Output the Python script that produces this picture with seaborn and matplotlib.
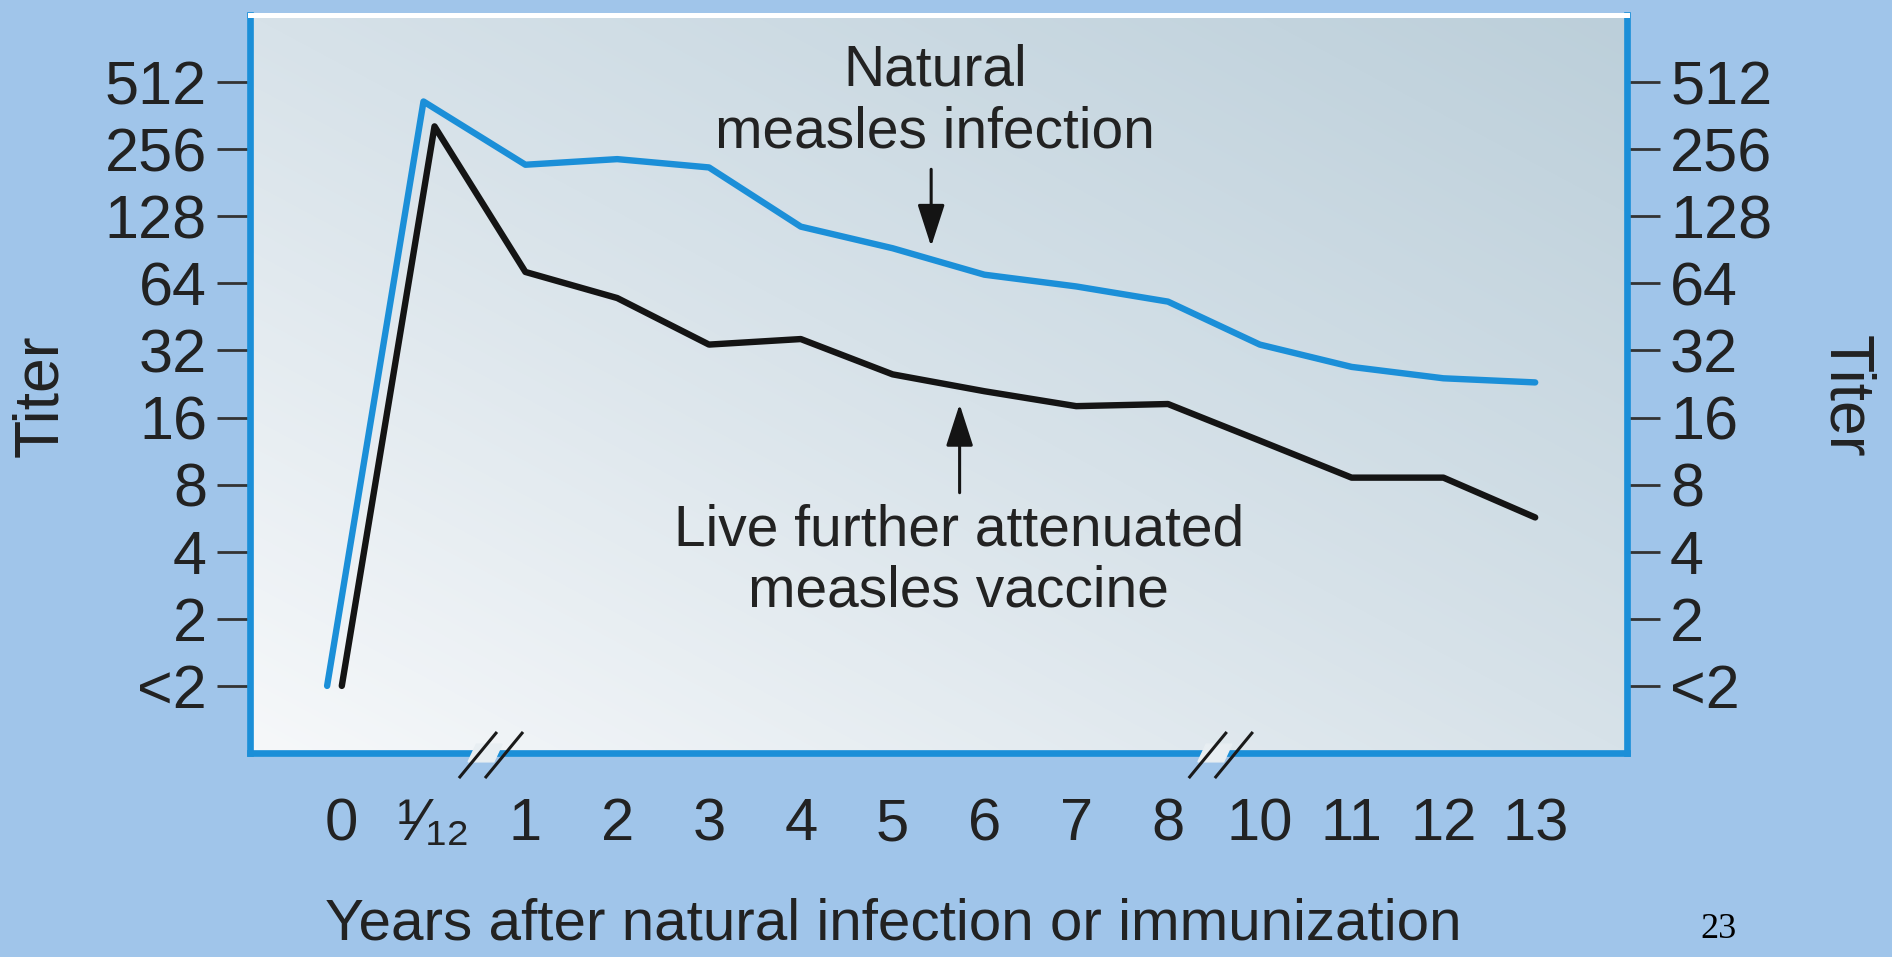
import numpy as np
import pandas as pd
import matplotlib
matplotlib.use('Agg')
import matplotlib.pyplot as plt
import matplotlib.transforms as mtransforms
from matplotlib.colors import LinearSegmentedColormap
from matplotlib.ticker import NullLocator
import seaborn as sns

# x axis is a row of slots, broken after 1/12 and after 8
tick_labels = ['0', '¹⁄₁₂', '1', '2', '3', '4', '5', '6', '7', '8', '10', '11', '12', '13']
tick_slots = list(range(len(tick_labels)))

# titer axis (log2), "<2" sits at 1
titer_ticks = [1, 2, 4, 8, 16, 32, 64, 128, 256, 512]
titer_labels = ['<2', '2', '4', '8', '16', '32', '64', '128', '256', '512']

# values
natural_x = [-0.16, 0.89, 2, 3, 4, 5, 6, 7, 8, 9, 10, 11, 12, 13]
natural_titer = [1, 419, 218, 231, 212, 115, 92, 70, 62, 53, 34, 27, 24, 23]

vaccine_x = [0, 1.01, 2, 3, 4, 5, 6, 7, 8, 9, 10, 11, 12, 13]
vaccine_titer = [1, 324, 72, 55, 34, 36, 25, 21, 18, 18.4, 12.6, 8.6, 8.6, 5.7]

BLUE = '#1b8fd8'
BLACK = '#141414'
BG = '#a0c5ea'
TXT = '#222222'

sns.set_style('white')
plt.rcParams['font.family'] = ['Liberation Sans', 'DejaVu Sans']

df = pd.concat([
    pd.DataFrame({'slot': natural_x, 'titer': natural_titer, 'series': 'natural'}),
    pd.DataFrame({'slot': vaccine_x, 'titer': vaccine_titer, 'series': 'vaccine'}),
], ignore_index=True)

fig = plt.figure(figsize=(18.92, 9.57), dpi=100, facecolor=BG)
ax = fig.add_axes([250 / 1892, 1 - 753 / 957, 1377 / 1892, 738 / 957])

# diagonal gradient behind the plot
gx, gy = np.meshgrid(np.linspace(0, 1, 300), np.linspace(0, 1, 200))
grad = 0.5 * gx + 0.5 * gy
cmap = LinearSegmentedColormap.from_list('bg', ['#f6f8fa', '#d7e2e9', '#bccfda'])
ax.imshow(grad, extent=[0, 1, 0, 1], transform=ax.transAxes, origin='lower',
          cmap=cmap, aspect='auto', zorder=0, interpolation='bicubic')

sns.lineplot(data=df, x='slot', y='titer', hue='series',
             palette={'natural': BLUE, 'vaccine': BLACK},
             sort=False, estimator=None, legend=False, linewidth=4.6, ax=ax, zorder=3)

ax.set_yscale('log', base=2)
ax.set_ylim(0.5, 1024)
ax.set_xlim(-1, 14)
ax.set_yticks(titer_ticks, titer_labels)
ax.yaxis.set_minor_locator(NullLocator())
ax.set_xticks(tick_slots, tick_labels)
ax.set_xlabel('')
ax.set_ylabel('')

ax.tick_params(axis='y', direction='out', length=24, width=2, color='#333333',
               labelsize=44, pad=7, labelcolor=TXT,
               left=True, right=True, labelleft=True, labelright=True)
ax.tick_params(axis='x', direction='out', length=17, width=2, color='#333333',
               labelsize=43, pad=15, labelcolor=TXT)

for side in ['left', 'right', 'bottom']:
    ax.spines[side].set_color(BLUE)
    ax.spines[side].set_linewidth(4.8)
ax.spines['top'].set_color('white')
ax.spines['top'].set_linewidth(3.6)

# axis break marks
trans = mtransforms.blended_transform_factory(ax.transData, ax.transAxes)
for xb in [1.62, 9.57]:
    x0 = xb - 0.344
    ax.fill([x0 + 0.10, x0 + 0.38, x0 + 0.47, x0 + 0.19],
            [-0.012, -0.012, 0.012, 0.012], color='#e8eef2',
            transform=trans, clip_on=False, zorder=5)
    for dx in [0, 0.284]:
        ax.plot([x0 + dx, x0 + dx + 0.414], [-0.034, 0.0285], color='#1a1a1a',
                lw=2.2, transform=trans, clip_on=False, zorder=6,
                solid_capstyle='butt')

# labels on the curves
ax.text(6.46, 2 ** 8.71, 'Natural\nmeasles infection', ha='center', va='center',
        fontsize=41, color=TXT, linespacing=1.18, zorder=4)
ax.annotate('', xy=(6.42, 2 ** 6.55), xytext=(6.42, 2 ** 7.7),
            arrowprops=dict(arrowstyle='-|>,head_length=1.3,head_width=0.42',
                            mutation_scale=20, lw=2.2, color=BLACK,
                            shrinkA=0, shrinkB=0), zorder=4)
ax.text(6.72, 2 ** 1.86, 'Live further attenuated\nmeasles vaccine', ha='center',
        va='center', fontsize=41, color=TXT, linespacing=1.18, zorder=4)
ax.annotate('', xy=(6.73, 2 ** 4.2), xytext=(6.73, 2 ** 2.88),
            arrowprops=dict(arrowstyle='-|>,head_length=1.3,head_width=0.42',
                            mutation_scale=20, lw=2.2, color=BLACK,
                            shrinkA=0, shrinkB=0), zorder=4)

fig.text(41 / 1892, 1 - 396 / 957, 'Titer', rotation=90, ha='center', va='center',
         fontsize=45, color=TXT)
fig.text(1846 / 1892, 1 - 396 / 957, 'Titer', rotation=270, ha='center', va='center',
         fontsize=45, color=TXT)
fig.text(893 / 1892, 1 - 925 / 957, 'Years after natural infection or immunization',
         ha='center', va='center', fontsize=42, color=TXT)
fig.text(1718 / 1892, 1 - 929 / 957, '23', ha='center', va='center',
         fontsize=26, family='Liberation Serif', color='black')

fig.savefig('out.png', dpi=100, facecolor=BG)
